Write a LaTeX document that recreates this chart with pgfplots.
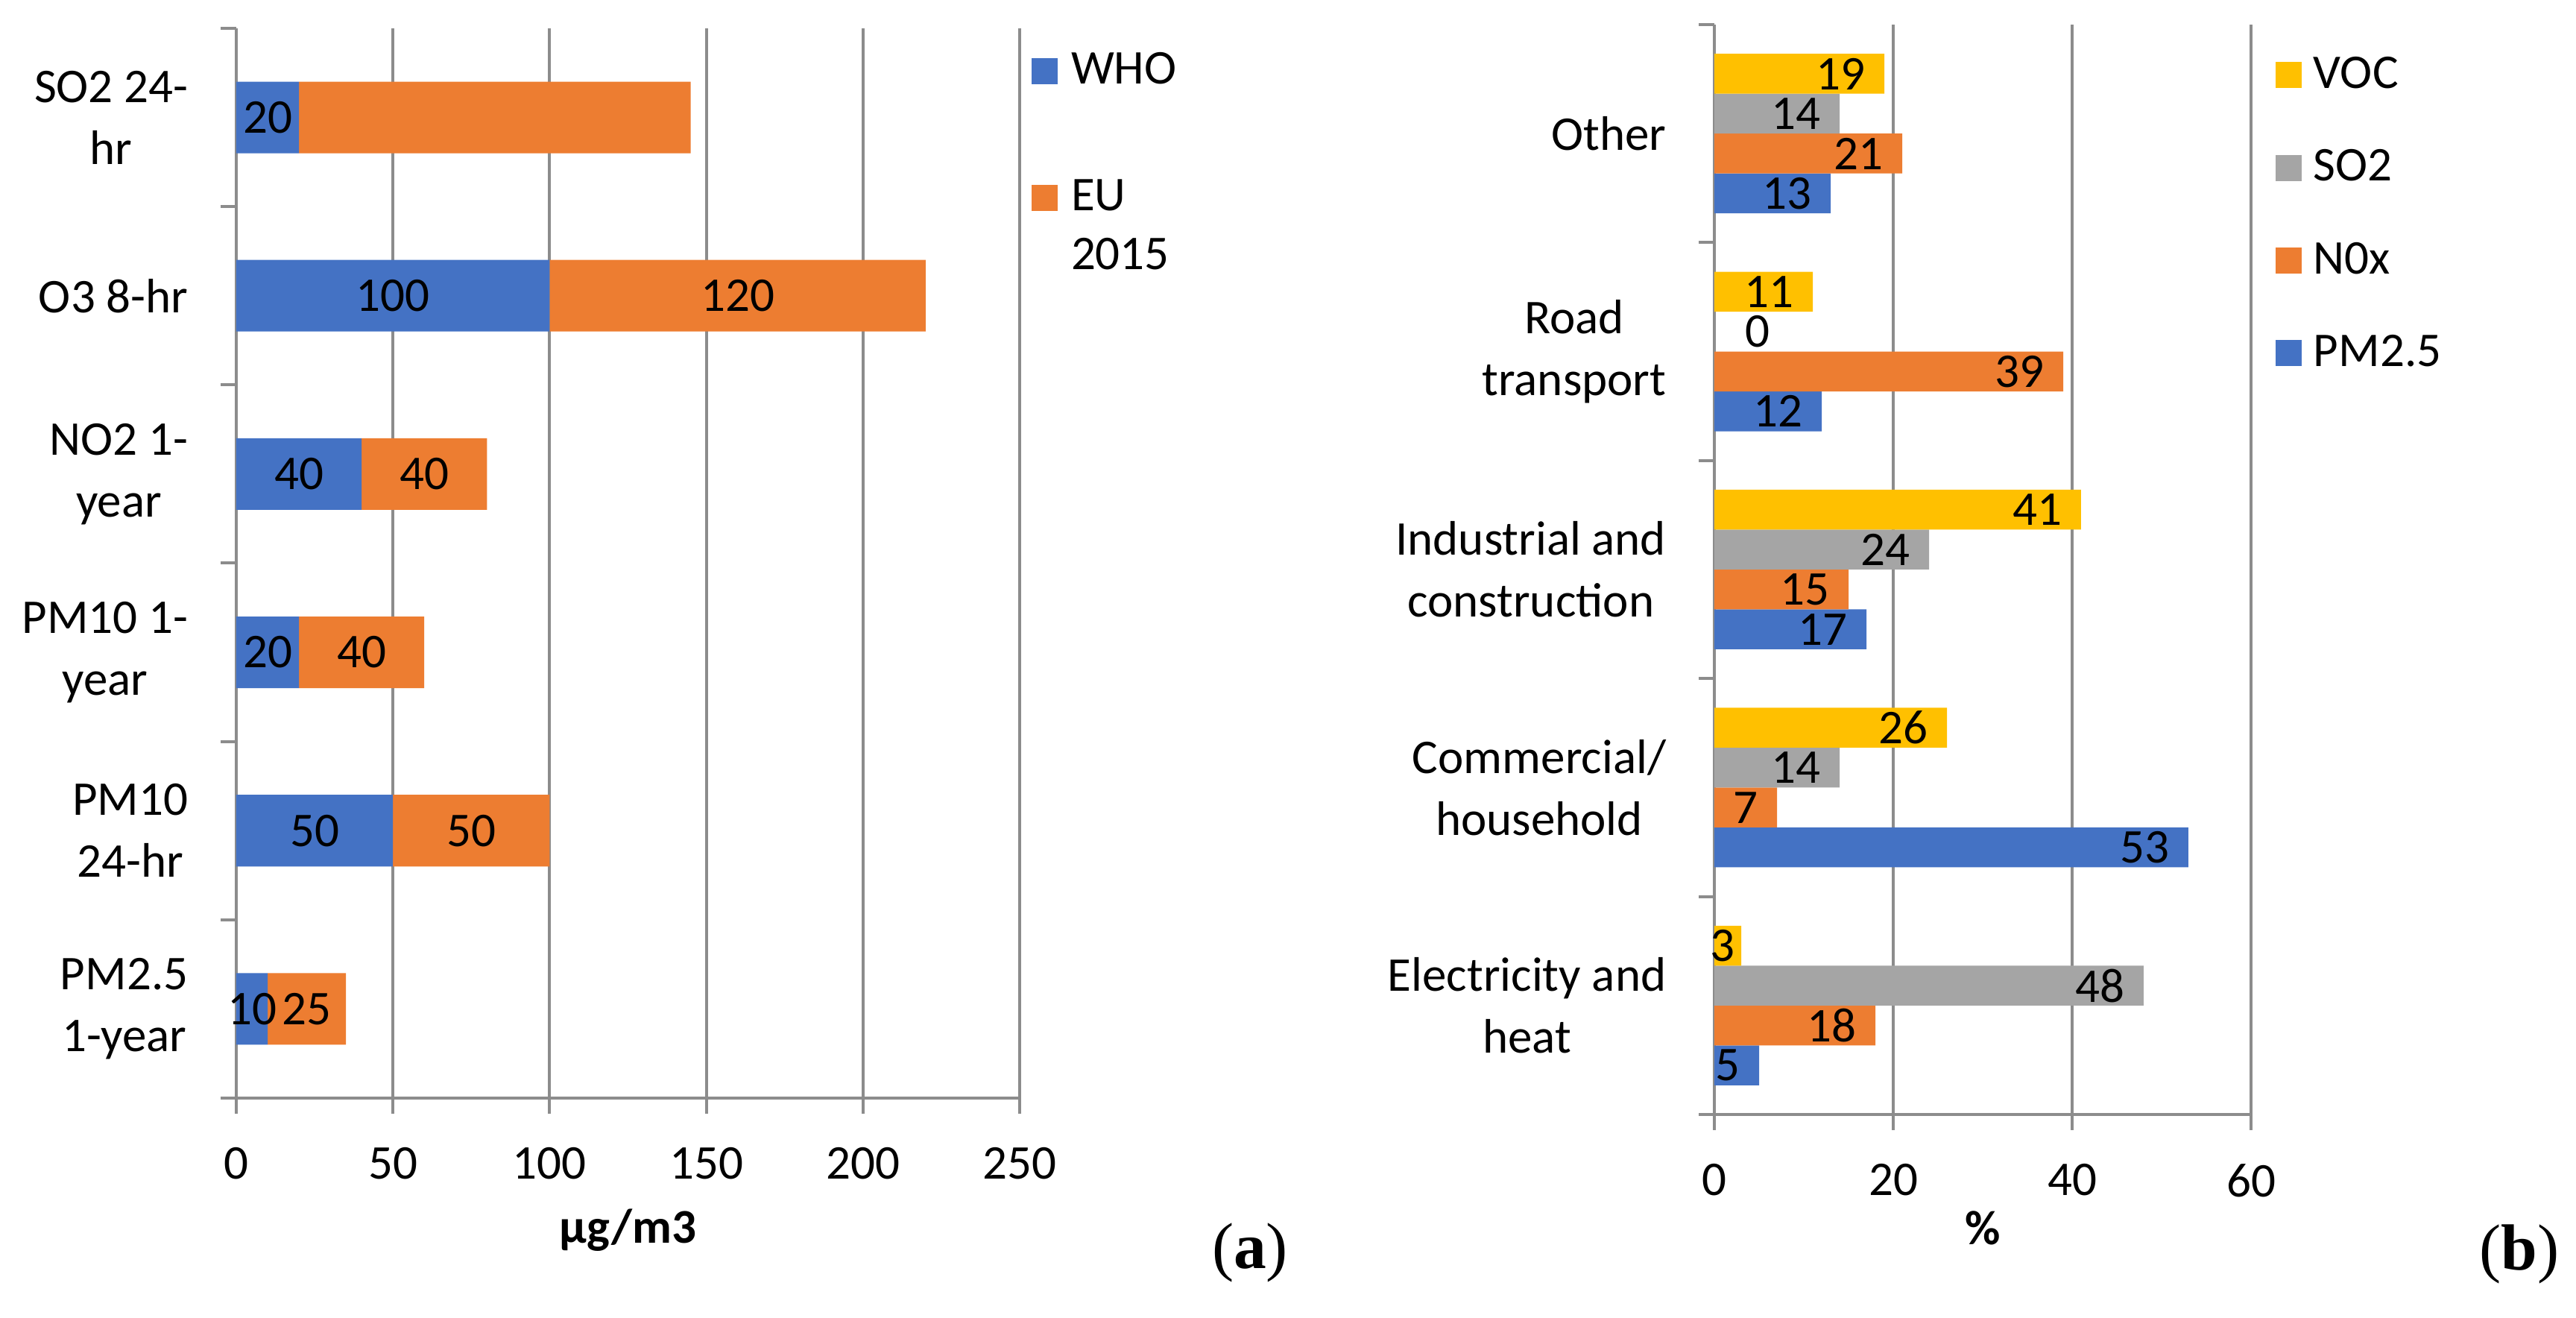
\documentclass[border=0pt]{standalone}
\usepackage{pgfplots}
\pgfplotsset{compat=1.18}
\usepackage{fontspec}
\setmainfont{Carlito}
\newfontfamily\seriffont{Liberation Serif}

\definecolor{cblue}{HTML}{4472C4}
\definecolor{corange}{HTML}{ED7D31}
\definecolor{cgray}{HTML}{A5A5A5}
\definecolor{cgold}{HTML}{FFC000}
\definecolor{linegray}{HTML}{8C8C8C}

\newcommand\fs{\fontsize{13}{16.6}\selectfont}

\pgfplotsset{
  sq/.style={fill=#1, draw=none,
    legend image code/.code={\fill[#1] (0pt,0pt) rectangle (7pt,7pt);}},
  excel/.style={
    scale only axis,
    anchor=south west,
    /pgf/number format/assume math mode=true,
    /pgf/number format/1000 sep={},
    font=\fs,
    tick label style={font=\fs},
    axis x line*=bottom, axis y line*=left,
    axis line style={linegray, line width=0.8pt, -},
    xmajorgrids,
    grid style={linegray, line width=0.8pt},
    tick align=outside,
    major tick length=4.2pt,
    x tick style={linegray, line width=0.8pt},
    y tick style={draw=none},
    extra y tick style={y tick style={draw=linegray, line width=0.8pt}, grid=none},
    extra y tick labels={},
    yticklabel style={align=center, xshift=-4.2pt},
    xticklabel style={yshift=-4.5pt},
    xlabel style={font=\fs\bfseries},
    legend style={draw=none, fill=none, inner sep=0pt, font=\fs,
      nodes={inner sep=0pt, anchor=base west}},
    legend cell align=left,
  },
}

\begin{document}
\fs
\begin{tikzpicture}
\path[use as bounding box] (0,0) rectangle (691.2pt,353.6pt);

% (a) limit values
\begin{axis}[excel,
  at={(63.4pt,59pt)}, width=210.2pt, height=287pt,
  xbar stacked, bar width=19.2pt,
  xmin=0, xmax=250, ymin=-0.5, ymax=5.5,
  xtick={0,50,100,150,200,250},
  ytick={0,1,2,3,4,5},
  yticklabels={{PM2.5\\1-year},{PM10\\24-hr},{PM10 1-\\year},{NO2 1-\\year},{O3 8-hr},{SO2 24-\\hr}},
  extra y ticks={-0.5,0.5,1.5,2.5,3.5,4.5,5.5},
  xlabel={µg/m3},
  xlabel style={at={(axis description cs:0.5,0)}, anchor=center, yshift=-35.4pt},
  legend style={at={(axis description cs:1.0143,0.978)}, anchor=north west,
    row sep=20.4pt, column sep=3.6pt},
]
\addplot[sq=cblue] coordinates {(10,0) (50,1) (20,2) (40,3) (100,4) (20,5)};
\addplot[sq=corange] coordinates {(25,0) (50,1) (40,2) (40,3) (120,4) (125,5)};
\legend{WHO, {\begin{tabular}[t]{@{}l@{}}EU\\[-0.9pt]2015\end{tabular}}}
\end{axis}

% segment labels of (a), at the middle of each segment
\begin{axis}[scale only axis, anchor=south west,
  at={(63.4pt,59pt)}, width=210.2pt, height=287pt,
  xmin=0, xmax=250, ymin=-0.5, ymax=5.5, hide axis,
  /pgf/number format/assume math mode=true,
]
\addplot[draw=none, mark=none, nodes near coords, point meta=explicit symbolic,
  every node near coord/.append style={anchor=center, font=\fs, inner sep=0pt}]
  coordinates {(10,5)[20] (50,4)[100] (160,4)[120] (20,3)[40] (60,3)[40]
    (10,2)[20] (40,2)[40] (25,1)[50] (75,1)[50] (5,0)[10] (22.5,0)[25]};
\end{axis}

% (b) emission shares
\begin{axis}[excel,
  at={(460pt,54.6pt)}, width=144pt, height=292.4pt,
  xbar, bar width=10.7pt,
  xmin=0, xmax=60, ymin=-0.5, ymax=4.5,
  xtick={0,20,40,60},
  ytick={0,1,2,3,4},
  yticklabels={{Electricity and\\heat},{Commercial/\\household},{Industrial and\\construction},{Road\\transport},{Other}},
  extra y ticks={-0.5,0.5,1.5,2.5,3.5,4.5},
  xlabel={\%},
  xlabel style={at={(axis description cs:0.5,0)}, anchor=center, yshift=-30.4pt},
  nodes near coords, point meta=explicit symbolic,
  every node near coord/.append style={anchor=east, xshift=-3pt, inner sep=2pt, font=\fs},
  reverse legend,
  legend style={at={(axis description cs:1.0444,0.9713)}, anchor=north west,
    row sep=14.5pt, column sep=3.2pt},
]
\addplot[sq=cblue, bar shift=-16.05pt]
  coordinates {(5,0)[5] (53,1)[53] (17,2)[17] (12,3)[12] (13,4)[13]};
\addplot[sq=corange, bar shift=-5.35pt]
  coordinates {(18,0)[18] (7,1)[7] (15,2)[15] (39,3)[39] (21,4)[21]};
\addplot[sq=cgray, bar shift=5.35pt]
  coordinates {(48,0)[48] (14,1)[14] (24,2)[24] (0,3)[] (14,4)[14]};
\addplot[sq=cgold, bar shift=16.05pt]
  coordinates {(3,0)[] (26,1)[26] (41,2)[41] (11,3)[11] (19,4)[19]};
% labels of the bars too short to hold them
\addplot[draw=none, fill=none, bar shift=5.35pt, forget plot,
  every node near coord/.append style={anchor=west, xshift=9pt}]
  coordinates {(0,3)[0]};
\addplot[draw=none, fill=none, bar shift=16.05pt, forget plot,
  every node near coord/.append style={anchor=east, xshift=3.5pt}]
  coordinates {(3,0)[3]};
\legend{PM2.5, N0x, SO2, VOC}
\end{axis}

\node[font=\seriffont\fontsize{17.5}{20}\selectfont] at (335.4pt,17.6pt) {(\textbf{a})};
\node[font=\seriffont\fontsize{17.5}{20}\selectfont] at (676pt,17.2pt) {(\textbf{b})};
\end{tikzpicture}
\end{document}
